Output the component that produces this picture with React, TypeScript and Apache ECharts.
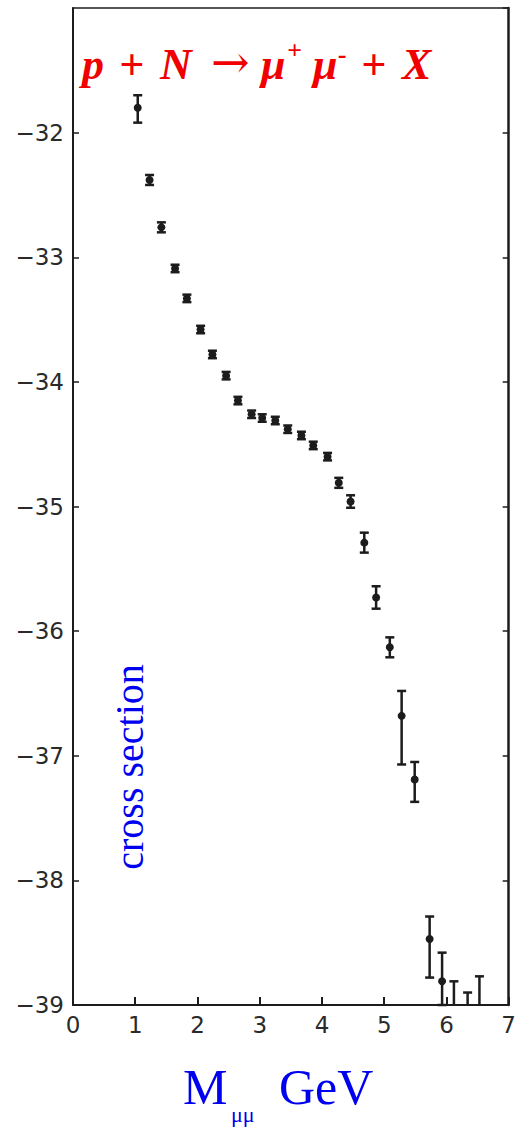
import React, { useEffect, useRef } from "react";
import * as echarts from "echarts";

// Dimuon invariant mass (GeV) and log10 of cross section
const massGeV = [1.04, 1.23, 1.42, 1.64, 1.83, 2.05, 2.24, 2.46, 2.65, 2.87, 3.04, 3.25, 3.45, 3.67, 3.86, 4.09, 4.27, 4.46, 4.68, 4.87, 5.09, 5.28, 5.49, 5.73, 5.93];
const logSigma = [-31.80, -32.38, -32.76, -33.09, -33.33, -33.58, -33.78, -33.95, -34.15, -34.26, -34.29, -34.31, -34.38, -34.43, -34.51, -34.60, -34.81, -34.96, -35.29, -35.73, -36.13, -36.68, -37.19, -38.47, -38.81];
const errUp = [0.10, 0.04, 0.04, 0.03, 0.03, 0.03, 0.03, 0.03, 0.03, 0.03, 0.03, 0.03, 0.03, 0.03, 0.03, 0.03, 0.04, 0.05, 0.08, 0.09, 0.08, 0.20, 0.14, 0.18, 0.23];
const errDown = [0.12, 0.04, 0.04, 0.03, 0.03, 0.03, 0.03, 0.03, 0.03, 0.03, 0.03, 0.03, 0.03, 0.03, 0.03, 0.03, 0.04, 0.05, 0.08, 0.09, 0.08, 0.39, 0.18, 0.31, 0.19];
// Upper limits (no measured point)
const limitMass = [6.12, 6.34, 6.53];
const limitTop = [-38.81, -38.9, -38.77];

const xMin = 0;
const xMax = 7;
const yMin = -39;
const yMax = -31;

const INK = "#1c1c1c";
const RED = "#f00000";
const BLUE = "#0000f0";

export default function App() {
  const ref = useRef<HTMLDivElement>(null);

  useEffect(() => {
    if (!ref.current) return;
    const chart = echarts.init(ref.current, null, { renderer: "svg" });

    const points = massGeV.map((m, i) => [m, logSigma[i], logSigma[i] + errUp[i], logSigma[i] - errDown[i]]);
    const limits = limitMass.map((m, i) => [m, limitTop[i], yMin]);

    const cap = 4.5;
    const lineStyle = { stroke: INK, lineWidth: 2.5 };
    const tf = { fontFamily: "Liberation Serif", fontStyle: "italic", fontWeight: "bold", fill: RED, align: "left", verticalAlign: "middle" };
    const titlePart = (text: string, x: number, y: number, size: number, extra: any = {}) => ({
      type: "text",
      x,
      y,
      style: { ...tf, text, fontSize: size, ...extra },
    });

    const option: any = {
      animation: false,
      backgroundColor: "#ffffff",
      grid: { left: 73, right: 2, top: 8, bottom: 125, containLabel: false },
      xAxis: [
        {
          type: "value",
          min: xMin,
          max: xMax,
          interval: 1,
          position: "bottom",
          axisLine: { show: true, onZero: false, lineStyle: { color: INK, width: 2 } },
          axisTick: { show: true, inside: true, length: 8, lineStyle: { color: INK, width: 2 } },
          axisLabel: { fontSize: 23, color: "#2a2a2a", fontFamily: "DejaVu Sans", margin: 8 },
          splitLine: { show: false },
        },
        {
          type: "value",
          min: xMin,
          max: xMax,
          interval: 1,
          position: "top",
          axisLine: { show: true, onZero: false, lineStyle: { color: INK, width: 1.5 } },
          axisTick: { show: false },
          axisLabel: { show: false },
          splitLine: { show: false },
        },
      ],
      yAxis: [
        {
          type: "value",
          min: yMin,
          max: yMax,
          interval: 1,
          position: "left",
          axisLine: { show: true, onZero: false, lineStyle: { color: INK, width: 2 } },
          axisTick: { show: true, inside: true, length: 6, lineStyle: { color: INK, width: 1.5 } },
          axisLabel: {
            fontSize: 23,
            color: "#2a2a2a",
            fontFamily: "DejaVu Sans",
            margin: 9,
            showMaxLabel: false,
            formatter: (v: number) => (v === yMax ? "" : "\u2212" + Math.abs(v)),
          },
          splitLine: { show: false },
        },
        {
          type: "value",
          min: yMin,
          max: yMax,
          interval: 1,
          position: "right",
          axisLine: { show: true, onZero: false, lineStyle: { color: INK, width: 2.5 } },
          axisTick: { show: true, inside: true, length: 6, lineStyle: { color: INK, width: 1.5 } },
          axisLabel: { show: false },
          splitLine: { show: false },
        },
      ],
      series: [
        {
          type: "custom",
          name: "measured",
          xAxisIndex: 0,
          yAxisIndex: 0,
          data: points,
          encode: { x: 0, y: [1, 2, 3] },
          renderItem: (params: any, api: any) => {
            const c = api.coord([api.value(0), api.value(1)]);
            const top = api.coord([api.value(0), api.value(2)]);
            const bot = api.coord([api.value(0), api.value(3)]);
            return {
              type: "group",
              children: [
                { type: "line", shape: { x1: c[0], y1: top[1], x2: c[0], y2: bot[1] }, style: lineStyle },
                { type: "line", shape: { x1: c[0] - cap, y1: top[1], x2: c[0] + cap, y2: top[1] }, style: lineStyle },
                { type: "line", shape: { x1: c[0] - cap, y1: bot[1], x2: c[0] + cap, y2: bot[1] }, style: lineStyle },
                { type: "circle", shape: { cx: c[0], cy: c[1], r: 4 }, style: { fill: INK } },
              ],
            };
          },
        },
        {
          type: "custom",
          name: "limits",
          xAxisIndex: 0,
          yAxisIndex: 0,
          data: limits,
          encode: { x: 0, y: [1, 2] },
          renderItem: (params: any, api: any) => {
            const top = api.coord([api.value(0), api.value(1)]);
            const bot = api.coord([api.value(0), api.value(2)]);
            return {
              type: "group",
              children: [
                { type: "line", shape: { x1: top[0], y1: top[1], x2: top[0], y2: bot[1] }, style: lineStyle },
                { type: "line", shape: { x1: top[0] - cap, y1: top[1], x2: top[0] + cap, y2: top[1] }, style: lineStyle },
              ],
            };
          },
        },
      ],
      graphic: [
        titlePart("p", 82, 64, 44),
        titlePart("+", 119, 64, 44),
        titlePart("N", 160, 64, 44),
        titlePart("\u2192", 211, 62, 46, { fontFamily: "DejaVu Serif", fontStyle: "normal", fontWeight: "normal" }),
        titlePart("\u03bc", 261, 64, 44),
        titlePart("+", 287, 50, 26),
        titlePart("\u03bc", 313, 64, 44),
        titlePart("-", 338, 54, 26),
        titlePart("+", 361, 64, 44),
        titlePart("X", 402, 64, 44),
        {
          type: "text",
          x: 129,
          y: 767,
          rotation: Math.PI / 2,
          style: {
            text: "cross section",
            fontSize: 40,
            fontFamily: "Liberation Serif",
            fill: BLUE,
            align: "center",
            verticalAlign: "middle",
          },
        },
        {
          type: "text",
          x: 183,
          y: 1087,
          style: { text: "M", fontSize: 50, fontFamily: "Liberation Serif", fill: BLUE, align: "left", verticalAlign: "middle" },
        },
        {
          type: "text",
          x: 231,
          y: 1114,
          style: { text: "\u03bc\u03bc", fontSize: 22, fontFamily: "Liberation Serif", fill: BLUE, align: "left", verticalAlign: "middle" },
        },
        {
          type: "text",
          x: 279,
          y: 1087,
          style: { text: "GeV", fontSize: 50, fontFamily: "Liberation Serif", fill: BLUE, align: "left", verticalAlign: "middle" },
        },
      ],
    };

    chart.setOption(option);
    return () => chart.dispose();
  }, []);

  return (
    <div
      ref={ref}
      style={{ position: "fixed", left: 0, top: 0, width: 519, height: 1130, background: "#ffffff" }}
    />
  );
}
